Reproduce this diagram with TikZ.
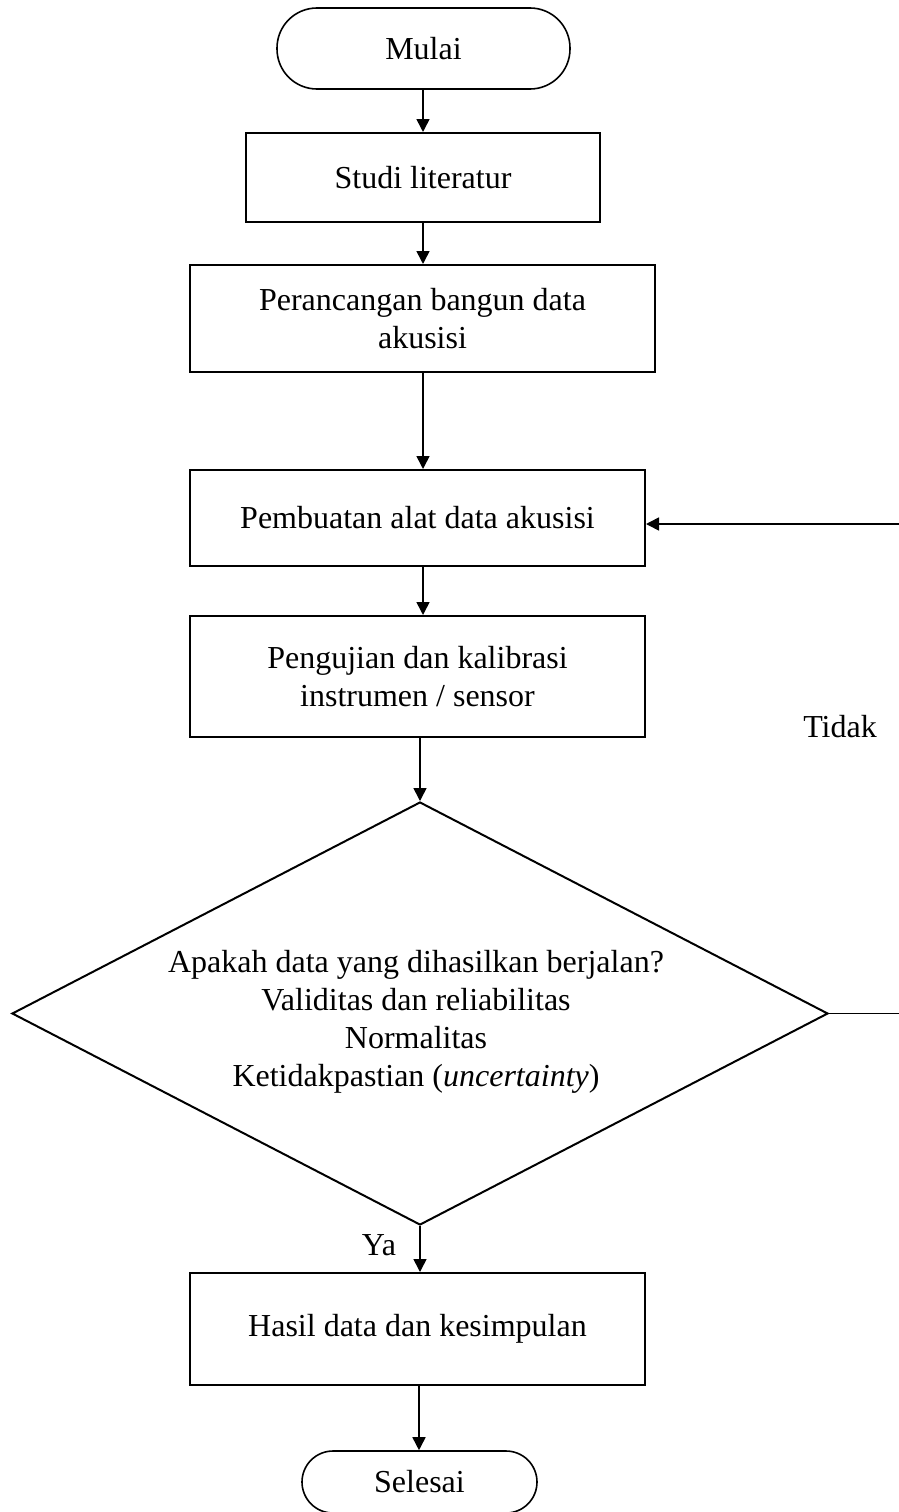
\documentclass[tikz,border=0pt]{standalone}
\usepackage{fontspec}
\setmainfont{Liberation Serif}
\usetikzlibrary{arrows.meta,shapes.geometric}
\begin{document}
\begin{tikzpicture}[x=1pt,y=-1pt,
  every node/.style={font=\fontsize{32}{38}\selectfont},
  procbox/.style={draw,line width=2pt,minimum width=455pt,align=center,inner sep=0pt},
  termbox/.style={draw,line width=1.6pt,align=center,inner sep=0pt},
  decbox/.style={draw,diamond,line width=2pt,inner sep=0pt,minimum width=816pt,minimum height=423pt},
  lbl/.style={inner sep=0pt},
  flow/.style={line width=1.6pt,-{Triangle[width=13pt,length=13pt]}}
]
\useasboundingbox (0,0) rectangle (899,1512);
\clip (0,0) rectangle (899,1512);
\fill[white] (0,0) rectangle (899,1512);

\node[termbox,minimum width=293pt,minimum height=81pt,rounded corners=40pt] (mulai) at (423.5,48.5) {Mulai};
\node[procbox,minimum width=354pt,minimum height=89pt] (studi) at (423,177.5) {Studi literatur};
\node[procbox,minimum width=465pt,minimum height=107pt] (ranc) at (422.5,318.5) {Perancangan bangun data\\akusisi};
\node[procbox,minimum height=96pt] (pemb) at (417.5,518) {Pembuatan alat data akusisi};
\node[procbox,minimum height=121pt] (uji) at (417.5,676.5) {Pengujian dan kalibrasi\\instrumen / sensor};
\node[decbox] (dec) at (420,1013.5) {};
\node[lbl,align=center] (dectext) at (416,1022) {Apakah data yang dihasilkan berjalan?\\Validitas dan reliabilitas\\Normalitas\\Ketidakpastian (\textit{uncertainty})};
\node[procbox,minimum height=112pt] (hasil) at (417.5,1329) {Hasil data dan kesimpulan};
\node[termbox,minimum width=235pt,minimum height=62pt,rounded corners=31pt] (selesai) at (419.5,1482) {Selesai};

\node[lbl] (tidak) at (840,727) {Tidak};
\node[lbl] (ya) at (379,1245) {Ya};

\coordinate (loop) at (930,1013.5);

\draw[flow] (mulai.south -| 423,0) -- (studi.north -| 423,0);
\draw[flow] (studi.south -| 423,0) -- (ranc.north -| 423,0);
\draw[flow] (ranc.south -| 423,0) -- (pemb.north -| 423,0);
\draw[flow] (pemb.south -| 423,0) -- (uji.north -| 423,0);
\draw[flow] (uji.south -| 420,0) -- (dec.north);
\draw[flow] (dec.south) -- (hasil.north -| 420,0);
\draw[flow] (hasil.south -| 419,0) -- (selesai.north -| 419,0);
\draw[flow] (dec.east) -- (loop) |- ([yshift=-6pt]pemb.east);
\end{tikzpicture}
\end{document}
